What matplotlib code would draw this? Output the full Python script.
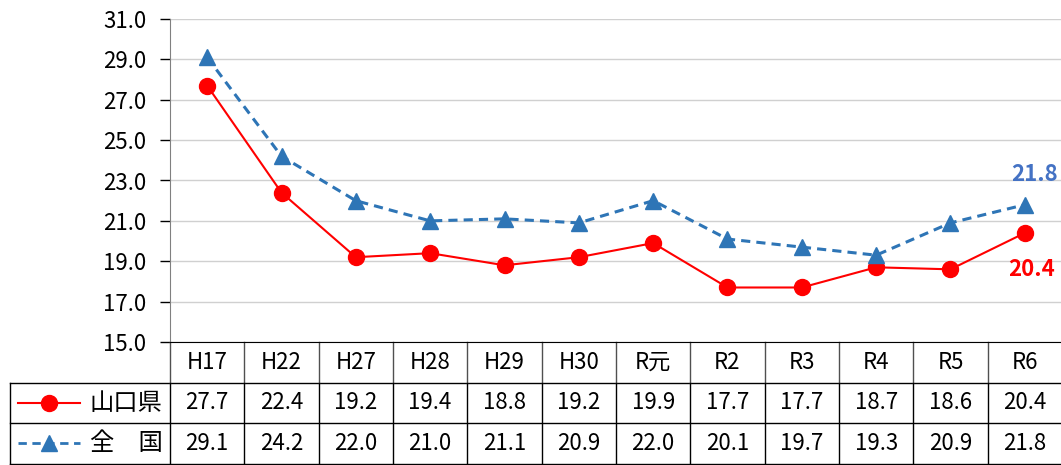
import matplotlib.pyplot as plt
import matplotlib.transforms as mtransforms
from matplotlib.lines import Line2D

plt.rcParams['font.family'] = ['Noto Sans CJK JP', 'DejaVu Sans']

# data
years = ['H17', 'H22', 'H27', 'H28', 'H29', 'H30', 'R元', 'R2', 'R3', 'R4', 'R5', 'R6']
yamaguchi = [27.7, 22.4, 19.2, 19.4, 18.8, 19.2, 19.9, 17.7, 17.7, 18.7, 18.6, 20.4]
zenkoku = [29.1, 24.2, 22.0, 21.0, 21.1, 20.9, 22.0, 20.1, 19.7, 19.3, 20.9, 21.8]
series_names = ['山口県', '全　国']

red = '#FF0000'
blue = '#2E75B6'
fs = 16

fig = plt.figure(figsize=(10.61, 4.65), dpi=100)
W, H = 1061, 465
ax = fig.add_axes([170 / W, (H - 342) / H, 892 / W, 323 / H])

x = list(range(len(years)))
ax.plot(x, yamaguchi, color=red, lw=1.5, marker='o', ms=11.5, zorder=3)
ax.plot(x, zenkoku, color=blue, lw=2.2, ls=(0, (3, 2)), marker='^', ms=11.5, zorder=3)

ax.set_xlim(-0.5, len(years) - 0.5)
ax.set_ylim(15, 31)
yt = [15, 17, 19, 21, 23, 25, 27, 29, 31]
ax.set_yticks(yt)
ax.set_yticklabels([f'{v:.1f}' for v in yt], fontsize=fs)
ax.set_xticks([])
ax.grid(axis='y', color='#D0D0D0', lw=1)
ax.set_axisbelow(True)
for s in ['top', 'right']:
    ax.spines[s].set_visible(False)
ax.spines['left'].set_color('#808080')
ax.spines['bottom'].set_color('black')
ax.tick_params(axis='y', length=7, width=1, color='black', pad=10)

# end labels
ax.annotate(f'{zenkoku[-1]:.1f}', (x[-1], zenkoku[-1]), xytext=(7, 22), textcoords='offset points',
            ha='center', va='center', color='#4472C4', fontsize=fs, fontweight='bold')
ax.annotate(f'{yamaguchi[-1]:.1f}', (x[-1], yamaguchi[-1]), xytext=(5, -26), textcoords='offset points',
            ha='center', va='center', color=red, fontsize=fs, fontweight='bold')

# data table under the chart
trans = mtransforms.blended_transform_factory(ax.transData, ax.transAxes)
rh = 40.5 / 323
left = -0.5 - 160 / 74.33
right = len(years) - 0.5 + 0.1

def hline(y, x0, x1, c='black'):
    ax.add_line(Line2D([x0, x1], [y, y], transform=trans, color=c, lw=1, clip_on=False))

def vline(xx, y0, y1, c='black'):
    ax.add_line(Line2D([xx, xx], [y0, y1], transform=trans, color=c, lw=1, clip_on=False))

hline(-rh, left, right)
hline(-2 * rh, left, right)
hline(-3 * rh, left, right)
vline(left, -rh, -3 * rh)
for i in range(len(years) + 1):
    xx = i - 0.5
    vline(xx, 0, -rh, c='#505050')
    vline(xx, -rh, -3 * rh)

for i, yr in enumerate(years):
    ax.text(i, -0.5 * rh, yr, transform=trans, ha='center', va='center', fontsize=fs)
    ax.text(i, -1.5 * rh, f'{yamaguchi[i]:.1f}', transform=trans, ha='center', va='center', fontsize=fs)
    ax.text(i, -2.5 * rh, f'{zenkoku[i]:.1f}', transform=trans, ha='center', va='center', fontsize=fs)

# legend keys in the table
kx0 = left + 8 / 74.33
kx1 = left + 70 / 74.33
kxm = (kx0 + kx1) / 2
ax.add_line(Line2D([kx0, kx1], [-1.5 * rh] * 2, transform=trans, color=red, lw=1.5, clip_on=False))
ax.add_line(Line2D([kxm], [-1.5 * rh], transform=trans, color=red, marker='o', ms=11.5, clip_on=False))
ax.add_line(Line2D([kx0, kx1], [-2.5 * rh] * 2, transform=trans, color=blue, lw=2, ls=(0, (3, 2)), clip_on=False))
ax.add_line(Line2D([kxm], [-2.5 * rh], transform=trans, color=blue, marker='^', ms=11.5, clip_on=False))
tx = left + 116 / 74.33
ax.text(tx, -1.5 * rh, series_names[0], transform=trans, ha='center', va='center', fontsize=17.5)
ax.text(tx, -2.5 * rh, series_names[1], transform=trans, ha='center', va='center', fontsize=17.5)

fig.savefig('out.png', dpi=100)
